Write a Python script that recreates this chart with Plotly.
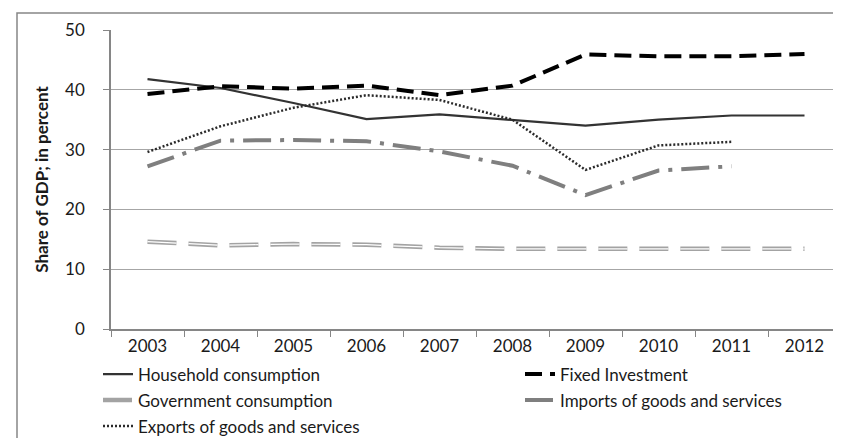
import plotly.graph_objects as go

years = ["2003", "2004", "2005", "2006", "2007", "2008", "2009", "2010", "2011", "2012"]
household = [41.8, 40.3, 37.8, 35.1, 35.9, 35.0, 34.0, 35.0, 35.7, 35.7]
fixed_investment = [39.3, 40.6, 40.2, 40.7, 39.1, 40.7, 45.9, 45.6, 45.6, 46.0]
government = [14.6, 14.0, 14.2, 14.1, 13.6, 13.4, 13.4, 13.4, 13.4, 13.4]
imports = [27.2, 31.5, 31.6, 31.4, 29.7, 27.3, 22.4, 26.5, 27.2, None]
exports = [29.6, 33.9, 37.0, 39.1, 38.3, 35.0, 26.6, 30.7, 31.3, None]

W, H = 841, 438
L, R, T, B = 103, 8, 22, 117
PW, PH = W - L - R, H - T - B

def px_x(x):
    return (x - L) / PW

def px_y(y):
    return (H - B - y) / PH

fig = go.Figure()
fig.add_trace(go.Scatter(x=years, y=household, name="Household consumption", mode="lines",
                         line=dict(color="#333333", width=2.2), legend="legend", legendgroup="g1"))
fig.add_trace(go.Scatter(x=years, y=fixed_investment, name="Fixed Investment", mode="lines",
                         line=dict(color="#000000", width=4, dash="17px,8px"), legend="legend2", legendgroup="g2"))
fig.add_trace(go.Scatter(x=years, y=government, name="Government consumption", mode="lines",
                         line=dict(color="#a3a3a3", width=4.5, dash="29px,12px"), legend="legend", legendgroup="g3"))
fig.add_trace(go.Scatter(x=years, y=government, name="Government consumption", mode="lines", showlegend=False,
                         line=dict(color="#ffffff", width=1.2, dash="29px,12px"), legend="legend", legendgroup="g3",
                         hoverinfo="skip"))
fig.add_trace(go.Scatter(x=years, y=imports, name="Imports of goods and services", mode="lines",
                         line=dict(color="#7f7f7f", width=4, dash="28px,9px,4px,9px"), legend="legend2", legendgroup="g4"))
fig.add_trace(go.Scatter(x=years, y=exports, name="Exports of goods and services", mode="lines",
                         line=dict(color="#2a2a2a", width=2.5, dash="2px,2px"), legend="legend", legendgroup="g5"))

legend_common = dict(xanchor="left", yanchor="top", orientation="v", traceorder="grouped",
                     tracegroupgap=0.9, font=dict(size=17, color="#1a1a1a"), bgcolor="rgba(0,0,0,0)")

fig.update_layout(
    width=W, height=H,
    margin=dict(l=L, r=R, t=T, b=B, autoexpand=False),
    paper_bgcolor="white", plot_bgcolor="white",
    font=dict(family="Lato, 'Open Sans', sans-serif", size=17, color="#1a1a1a"),
    xaxis=dict(type="category", range=[-0.5, 9.5], showline=True, linecolor="#868686", linewidth=1.5,
               ticks="outside", tickson="boundaries", ticklen=6, tickcolor="#868686", tickwidth=1,
               showgrid=False, ticklabelstandoff=1, fixedrange=True),
    yaxis=dict(range=[0, 50], dtick=10, showline=True, linecolor="#868686", linewidth=1.5,
               ticks="outside", ticklen=6, tickcolor="#868686", tickwidth=1,
               showgrid=True, gridcolor="#a6a6a6", gridwidth=1, zeroline=False,
               ticklabelstandoff=15, fixedrange=True,
               title=dict(text="<b>Share of GDP; in percent</b>", font=dict(size=17, color="#1a1a1a"), standoff=12)),
    legend=dict(x=px_x(90), y=px_y(348.5), **legend_common),
    legend2=dict(x=px_x(512), y=px_y(348.5), **legend_common),
    shapes=[dict(type="rect", xref="paper", yref="paper",
                 x0=px_x(9), x1=px_x(W + 60), y0=px_y(H + 60), y1=px_y(5),
                 line=dict(color="#868686", width=1.5), fillcolor="rgba(0,0,0,0)")],
    showlegend=True,
)

fig.write_html("out.html")
